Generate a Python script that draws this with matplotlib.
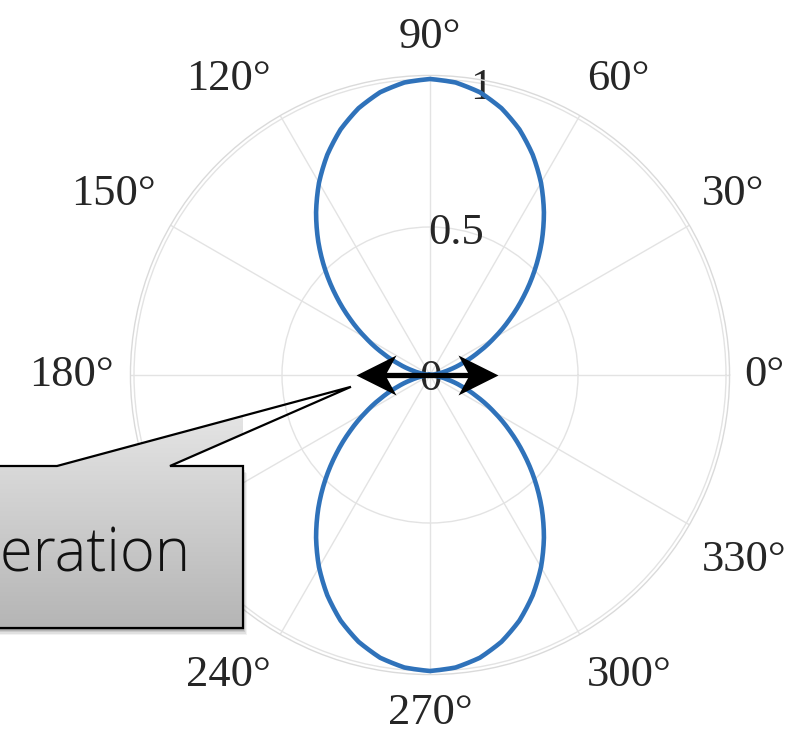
import numpy as np
import matplotlib
matplotlib.use("Agg")
import matplotlib.pyplot as plt
from matplotlib.path import Path
from matplotlib.patches import Polygon

# Radiation pattern of an accelerated charge (relative power vs. angle), 5° steps
angles_deg = list(range(0, 365, 5))
power = [0.000, 0.008, 0.030, 0.067, 0.117, 0.179, 0.250, 0.329, 0.413,
         0.500, 0.587, 0.671, 0.750, 0.821, 0.883, 0.933, 0.970, 0.992,
         1.000, 0.992, 0.970, 0.933, 0.883, 0.821, 0.750, 0.671, 0.587,
         0.500, 0.413, 0.329, 0.250, 0.179, 0.117, 0.067, 0.030, 0.008,
         0.000, 0.008, 0.030, 0.067, 0.117, 0.179, 0.250, 0.329, 0.413,
         0.500, 0.587, 0.671, 0.750, 0.821, 0.883, 0.933, 0.970, 0.992,
         1.000, 0.992, 0.970, 0.933, 0.883, 0.821, 0.750, 0.671, 0.587,
         0.500, 0.413, 0.329, 0.250, 0.179, 0.117, 0.067, 0.030, 0.008,
         0.000]

theta_ticks = [0, 30, 60, 90, 120, 150, 180, 210, 240, 270, 300, 330]
theta_labels = [f"{t}°" for t in theta_ticks]
r_ticks = [0, 0.5, 1]
r_labels = ["0", "0.5", "1"]

callout_text = "Acceleration"

W, H = 812, 730
fig = plt.figure(figsize=(W / 100, H / 100), dpi=100)

rmax = 1.012
cx, cy, rad_px = 430, 375, 296 * rmax
ax = fig.add_axes([(cx - rad_px) / W, (H - cy - rad_px) / H,
                   2 * rad_px / W, 2 * rad_px / H], projection="polar")

serif = ["Liberation Serif", "DejaVu Serif"]
label_color = "#262626"
grid_color = "#e3e3e3"

ax.set_ylim(0, rmax)
ax.set_thetagrids(theta_ticks, labels=[""] * len(theta_ticks))
ax.set_rgrids([0.5, 1.0], labels=["", ""])
ax.grid(True, color=grid_color, linewidth=1.0)
ax.spines["polar"].set_color("#dadada")
ax.spines["polar"].set_linewidth(1.0)
ax.tick_params(length=0)

# Pattern curve (segments follow the polar grid between samples)
th = np.deg2rad(angles_deg)
ln, = ax.plot(th, power, color="#2f72ba", linewidth=3.3, zorder=3,
              solid_joinstyle="round")
ln.get_path()._interpolation_steps = 8

# Angle labels just outside the rim
fs = 32
for t, lab in zip(theta_ticks, theta_labels):
    c, s = np.cos(np.deg2rad(t)), np.sin(np.deg2rad(t))
    ha = "left" if c > 0.1 else ("right" if c < -0.1 else "center")
    va = "bottom" if s > 0.1 else ("top" if s < -0.1 else "center")
    dx = -2 if ha == "right" else 0
    if va == "bottom":
        dy = 3
    elif va == "top":
        dy = -3 if ha == "center" else -6
    else:
        dy = 0
    ax.annotate(lab, xy=(np.deg2rad(t), 1.06), xytext=(dx, dy),
                textcoords="offset points", ha=ha, va=va, fontsize=fs,
                family=serif, color=label_color, annotation_clip=False,
                zorder=1)

# Radial labels along the 80° ray
for r, lab in zip(r_ticks, r_labels):
    ax.annotate(lab, xy=(np.deg2rad(80), r), xytext=(0, -3),
                textcoords="offset points", ha="center", va="center",
                fontsize=fs, family=serif, color=label_color, zorder=2)

# Double-headed acceleration arrow through the origin
left_tip, right_tip = 0.25, 0.23
head_px = 40
head_r = head_px / 296
ax.plot([np.pi, np.pi, 0, 0],
        [left_tip - 0.6 * head_r, 0, 0, right_tip - 0.6 * head_r],
        color="black", linewidth=3.8, solid_capstyle="butt", zorder=4)
head_left = Path([(0, 0), (40, 20), (29, 0), (40, -20), (0, 0)],
                 [Path.MOVETO, Path.LINETO, Path.LINETO, Path.LINETO,
                  Path.CLOSEPOLY])
head_right = Path([(0, 0), (-40, 20), (-29, 0), (-40, -20), (0, 0)],
                  [Path.MOVETO, Path.LINETO, Path.LINETO, Path.LINETO,
                   Path.CLOSEPOLY])
msize = 2 * head_px * 0.72
ax.plot([np.pi], [left_tip], marker=head_left, markersize=msize,
        color="black", markeredgewidth=0, linestyle="none", zorder=5)
ax.plot([0], [right_tip], marker=head_right, markersize=msize,
        color="black", markeredgewidth=0, linestyle="none", zorder=5)

# Callout box in figure pixel space
ov = fig.add_axes([0, 0, 1, 1], facecolor="none")
ov.set_xlim(0, W)
ov.set_ylim(H, 0)
ov.axis("off")

fig.canvas.draw()
tip = ax.transData.transform((np.deg2rad(188.5), 0.27))
tip_px = (tip[0], H - tip[1])
box_l, box_r, box_t, box_b = -80, 243, 466, 628
verts = [(box_l, box_t), (57, box_t), tip_px, (170, box_t),
         (box_r, box_t), (box_r, box_b), (box_l, box_b)]

# soft drop shadow of the rectangle
rect_verts = [(box_l, box_t), (box_r, box_t), (box_r, box_b), (box_l, box_b)]
for k, a in zip([7, 5.5, 4, 2.5, 1.5], [0.05, 0.07, 0.09, 0.11, 0.13]):
    ov.add_patch(Polygon([(x + k * 0.6, y + k) for x, y in rect_verts],
                         closed=True, facecolor="#000000", alpha=a,
                         edgecolor="none", zorder=1))

shape = Polygon(verts, closed=True, facecolor="none",
                edgecolor="black", linewidth=1.6, zorder=3,
                joinstyle="miter")
grad = np.linspace(0, 1, 256).reshape(-1, 1)
top_c = np.array([0.92, 0.92, 0.92])
bot_c = np.array([0.71, 0.71, 0.71])
img = top_c + (bot_c - top_c) * grad[..., None]
img = np.repeat(img, 2, axis=1)
im = ov.imshow(img, extent=[box_l, box_r, box_b, 387], aspect="auto",
               zorder=2, interpolation="bilinear")
clip = Polygon(verts, closed=True, transform=ov.transData)
im.set_clip_path(clip)
ov.add_patch(shape)
ov.set_xlim(0, W)
ov.set_ylim(H, 0)

ov.text(190, 571, callout_text, ha="right", va="baseline", fontsize=43,
        family=["Open Sans", "Roboto", "DejaVu Sans"], fontweight="light",
        color="#111111", zorder=4)

fig.savefig("out.png", dpi=100, facecolor="white")
